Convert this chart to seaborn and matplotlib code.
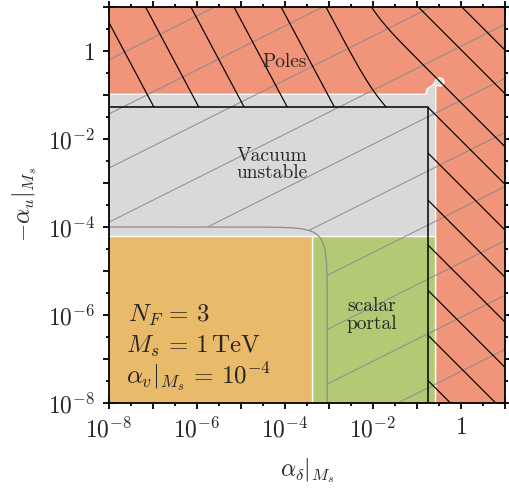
import numpy as np
import matplotlib
matplotlib.use("Agg")
import matplotlib.pyplot as plt
from matplotlib.path import Path
from matplotlib.ticker import FixedLocator, FixedFormatter, NullFormatter
import pandas as pd
import seaborn as sns

# ---------------------------------------------------------------------------
# Axis extent and ticks (log10 of the couplings at M_s)
log_min, log_max = -8.0, 1.0
major_decades = list(range(-8, 2))
major_labels = [r"$10^{-8}$", "", r"$10^{-6}$", "", r"$10^{-4}$", "",
                r"$10^{-2}$", "", r"$1$", ""]
minor_decades = [d + 0.5 for d in range(-8, 1)]

# Region boundaries, log10 values
safe_delta_max = -3.38        # orange | green split in alpha_delta
scalar_u_max = -4.20          # upper edge of the orange and green blocks
stable_delta_max = -0.58      # poles start beyond this alpha_delta
pole_u_min = -0.984           # poles start above this -alpha_u

# upper-right outline of the vacuum-unstable block (with the small spur)
unstable_edge_delta = [-8.0, -0.802, -0.763, -0.613, -0.574, -0.54, -0.476,
                       -0.41, -0.386, -0.41, -0.476, -0.54, -0.574, -0.58]
unstable_edge_u = [-0.984, -0.984, -0.854, -0.756, -0.658, -0.63, -0.612,
                   -0.64, -0.704, -0.77, -0.794, -0.78, -0.80, -8.0]

# black boundary of the hatched (black) area
black_u = -1.27
black_delta = -0.76

# grey rounded boundary: (x/x0)^p + (y/y0)^p = 1
grey_delta0 = -3.04
grey_u0 = -4.00
grey_power = 1.5

# grey hatch: log u = slope * log delta + offset
grey_slope = 0.5
grey_offsets = [5.04, 3.80, 2.57, 1.34, 0.11, -1.12, -2.35, -3.58, -4.81,
                -6.05, -7.28, -8.51]

# black hatch: where the lines leave the top edge, and (right column) the
# values of log u + log delta of the lines below the corner
black_top_cross = [-8.20, -7.18, -6.15, -5.17, -4.10, -3.08, -2.05, -0.99, 0.0]
black_column_sums = [-2.03, -3.07, -4.14, -5.16, -6.19, -7.21, -8.24]
black_steep = 1.88

# colours
pole_color = "#F0957A"
unstable_color = "#D9D9D9"
scalar_color = "#B3CA75"
safe_color = "#E9BA6A"

# ---------------------------------------------------------------------------
sns.set_theme(style="ticks")
plt.rcParams["mathtext.fontset"] = "cm"
plt.rcParams["font.family"] = "serif"
plt.rcParams["font.serif"] = ["cmr10", "DejaVu Serif"]
plt.rcParams["axes.formatter.use_mathtext"] = True

fig = plt.figure(figsize=(5.09, 4.96), dpi=100)
ax = fig.add_axes([109 / 509, 93 / 496, 396 / 509, 396 / 496])
ax.set_xscale("log")
ax.set_yscale("log")

P = lambda v: 10.0 ** np.asarray(v, dtype=float)
far_lo, far_hi = -10.0, 3.0
top_edge = log_max + 0.02

# poles: everything as background
ax.fill(P([far_lo, far_hi, far_hi, far_lo]), P([far_lo, far_lo, far_hi, far_hi]),
        color=pole_color, lw=0, zorder=1)

# vacuum unstable block
ud = [far_lo, far_lo] + unstable_edge_delta[1:] + [stable_delta_max]
uu = [far_lo] + unstable_edge_u + [far_lo]
ax.fill(P(ud), P(uu), facecolor=unstable_color, edgecolor="white", lw=1.0, zorder=1.2)

# scalar portal block
ax.fill(P([safe_delta_max, stable_delta_max, stable_delta_max, safe_delta_max]),
        P([far_lo, far_lo, scalar_u_max, scalar_u_max]),
        facecolor=scalar_color, edgecolor="white", lw=1.0, zorder=1.3)

# allowed block
ax.fill(P([far_lo, safe_delta_max, safe_delta_max, far_lo]),
        P([far_lo, far_lo, scalar_u_max, scalar_u_max]),
        facecolor=safe_color, edgecolor="white", lw=1.0, zorder=1.3)

# grey rounded boundary
seg_a = np.linspace(far_lo, grey_delta0 - 0.25, 200)
ya = grey_u0 + np.log10((1 - P(seg_a - grey_delta0) ** grey_power) ** (1 / grey_power))
seg_b_u = np.linspace(ya[-1], far_lo, 300)
xb = grey_delta0 + np.log10((1 - P(seg_b_u - grey_u0) ** grey_power) ** (1 / grey_power))
curve_lx = np.concatenate([seg_a, xb])
curve_ly = np.concatenate([ya, seg_b_u])
curve_df = pd.DataFrame({"delta": P(curve_lx), "u": P(curve_ly)})

grey_clip = Path(np.column_stack([
    np.concatenate([curve_df["delta"], P([far_hi, far_hi, far_lo])]),
    np.concatenate([curve_df["u"], P([far_lo, far_hi, far_hi])]),
]))

def rect_path(x0, x1, y0, y1):
    return Path(np.column_stack([P([x0, x1, x1, x0]), P([y0, y0, y1, y1])]))

l_clip = Path(np.column_stack([
    P([far_lo, black_delta, black_delta, far_hi, far_hi, far_lo]),
    P([black_u, black_u, far_lo, far_lo, far_hi, far_hi]),
]))
band_clip = rect_path(far_lo, far_hi, black_u, far_hi)
column_clip = rect_path(black_delta, far_hi, far_lo, far_hi)

# grey hatching
lx_line = np.array([far_lo, far_hi])
for c in grey_offsets:
    ln, = ax.plot(P(lx_line), P(grey_slope * lx_line + c), color="#8a8a8a",
                  lw=0.7, zorder=2)
    ln.set_clip_path(grey_clip, ax.transData)

sns.lineplot(data=curve_df, x="delta", y="u", sort=False, estimator=None,
             color="#8c8c8c", lw=0.9, ax=ax, zorder=2.2)


# black hatching: steep in the upper-left band, slope -1 further right
def bend(lx, c0=-2.0, w=0.2):
    return lx - (black_steep - 1) * w * np.logaddexp(0.0, (c0 - lx) / w)


lx_fine = np.linspace(far_lo, far_hi, 1200)
corner_level = black_u + bend(black_delta)
for t in black_top_cross:
    level = top_edge + bend(t)
    ln, = ax.plot(P(lx_fine), P(level - bend(lx_fine)), color="black", lw=0.85, zorder=3)
    ln.set_clip_path(l_clip if level > corner_level + 0.05 else band_clip, ax.transData)
for s in black_column_sums:
    ln, = ax.plot(P(lx_fine), P(s - lx_fine), color="black", lw=0.85, zorder=3)
    ln.set_clip_path(column_clip, ax.transData)

# black boundary
edge_df = pd.DataFrame({"delta": P([far_lo, black_delta, black_delta]),
                        "u": P([black_u, black_u, far_lo])})
sns.lineplot(data=edge_df, x="delta", y="u", sort=False, estimator=None,
             color="black", lw=1.1, ax=ax, zorder=3.5)

ax.set_xlim(10 ** log_min, 10 ** log_max)
ax.set_ylim(10 ** log_min, 10 ** log_max)

# labels inside the regions
ax.text(P(-4.0), P(-0.25), "Poles", fontsize=14, ha="center", va="center", zorder=5)
ax.text(P(-4.29), P(-2.58), "Vacuum\nunstable", fontsize=14, ha="center",
        va="center", linespacing=1.0, zorder=5)
ax.text(P(-2.03), P(-6.0), "scalar\nportal", fontsize=14, ha="center",
        va="center", linespacing=1.0, zorder=5)
ax.text(0.047, 0.205, r"$N_F\, =\, 3$", transform=ax.transAxes, fontsize=18,
        ha="left", va="baseline", zorder=5)
ax.text(0.043, 0.127, r"$M_s\, =\, 1\,\mathrm{TeV}$", transform=ax.transAxes,
        fontsize=18, ha="left", va="baseline", zorder=5)
ax.text(0.043, 0.048, r"$\alpha_v|_{M_s}\, =\, 10^{-4}$", transform=ax.transAxes,
        fontsize=18, ha="left", va="baseline", zorder=5)

# ticks
for axis in (ax.xaxis, ax.yaxis):
    axis.set_major_locator(FixedLocator(P(major_decades)))
    axis.set_major_formatter(FixedFormatter(major_labels))
    axis.set_minor_locator(FixedLocator(P(minor_decades)))
    axis.set_minor_formatter(NullFormatter())
ax.tick_params(which="both", direction="inout", top=True, right=True,
               width=1.3, color="black", labelsize=17, zorder=10)
ax.tick_params(which="major", length=8, pad=6)
ax.tick_params(which="minor", length=5)
for s in ax.spines.values():
    s.set_linewidth(1.3)
    s.set_color("black")
    s.set_zorder(10)

ax.set_xlabel(r"$\alpha_\delta|_{M_s}$", fontsize=17, labelpad=10)
ax.set_ylabel(r"$-\alpha_u|_{M_s}$", fontsize=17, labelpad=6)

fig.savefig("out.png", dpi=100)
